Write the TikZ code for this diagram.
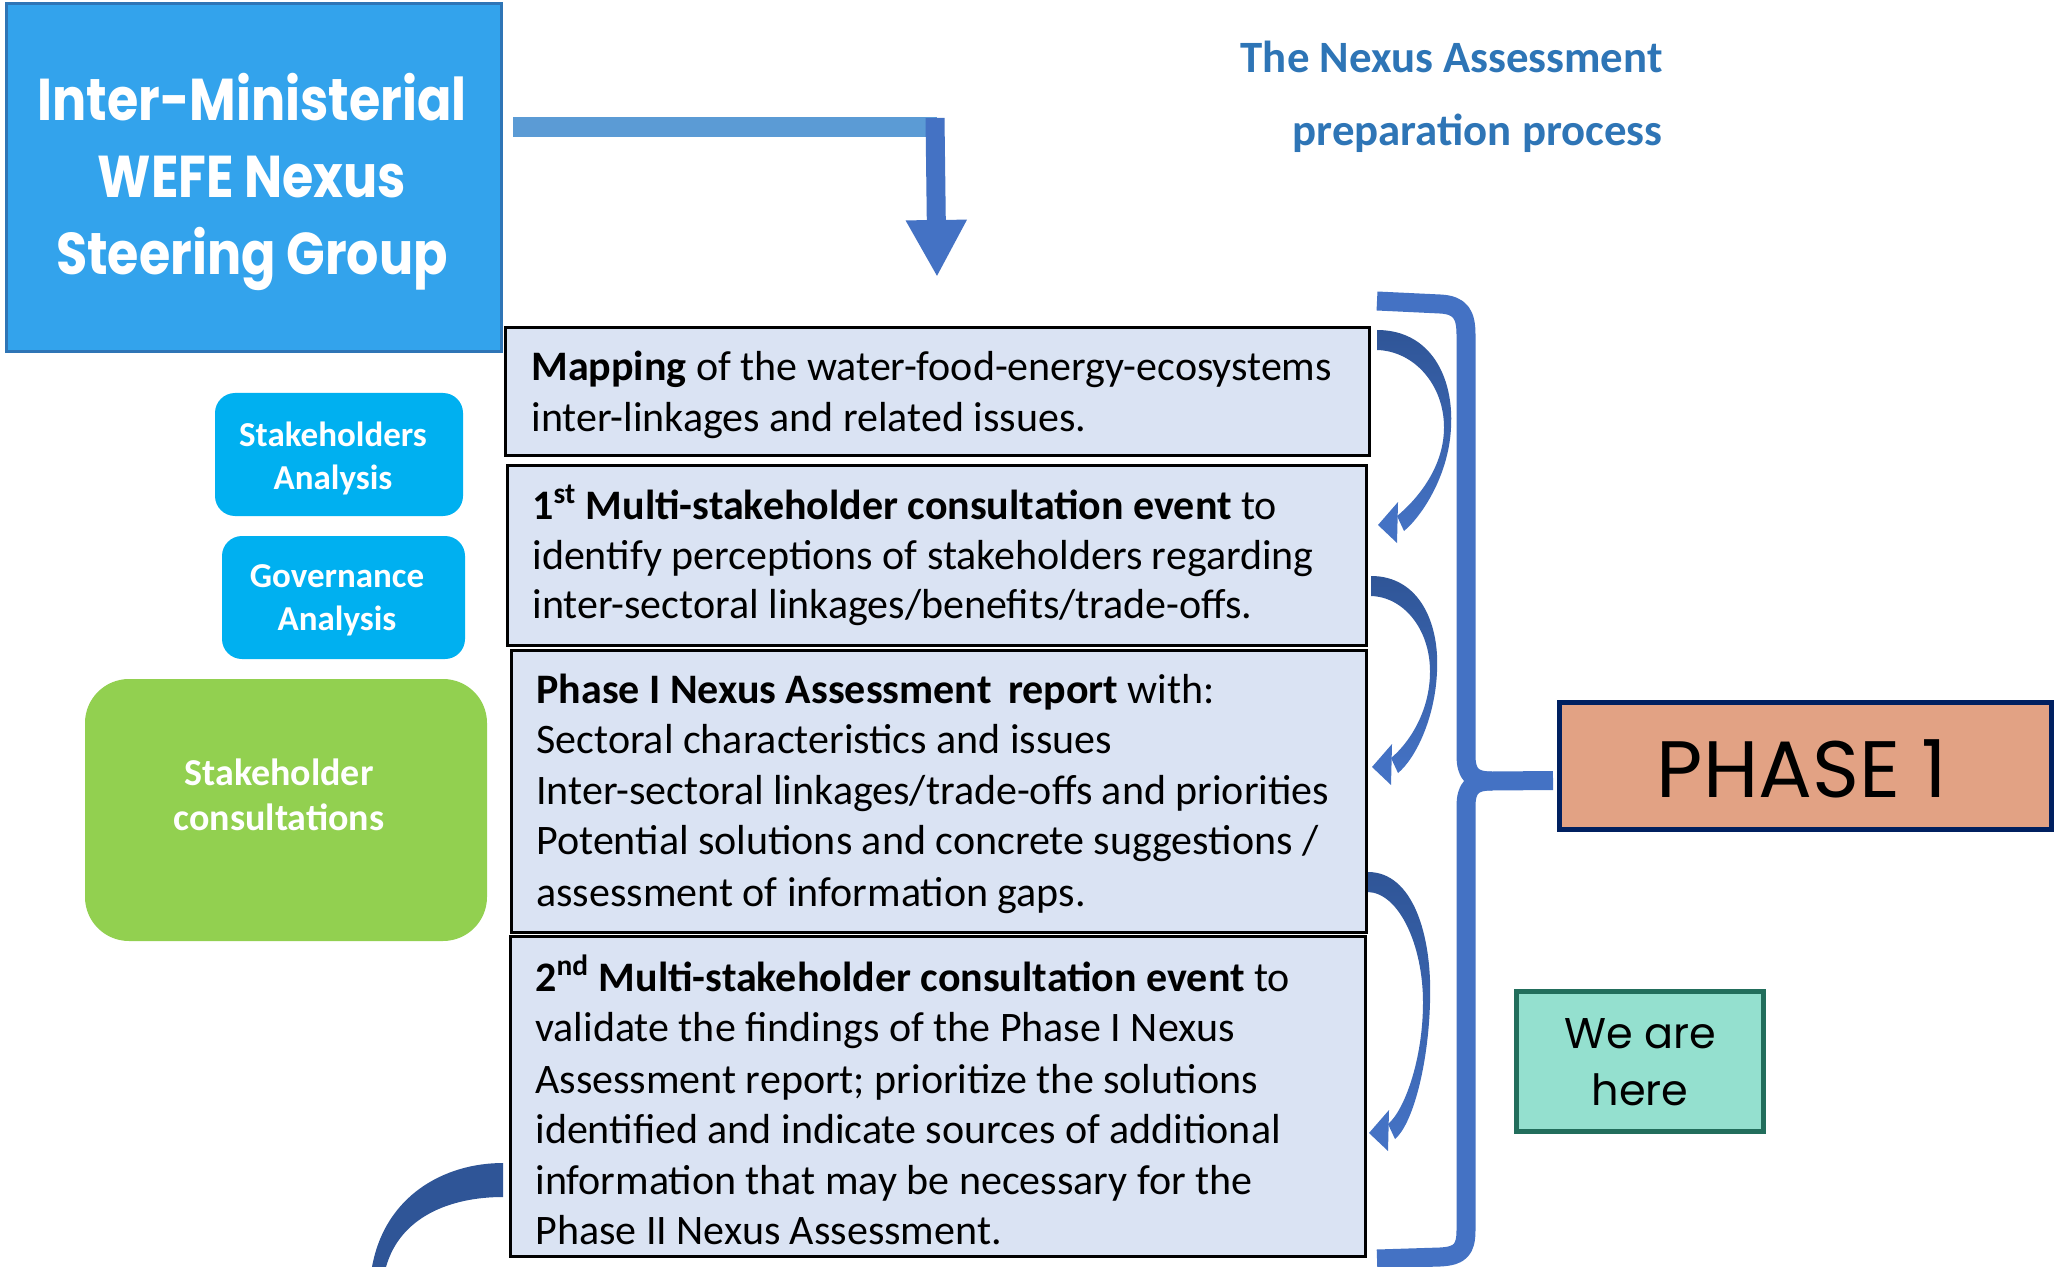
\documentclass[tikz,border=0pt]{standalone}
\usepackage{fontspec}
\setmainfont{Carlito}
\newfontfamily\geob[FakeStretch=0.86]{Poppins}
\newfontfamily\geor{Poppins}
\usetikzlibrary{arrows.meta,calc}
\definecolor{sgblue}{HTML}{33A3EC}
\definecolor{sgborder}{HTML}{2E75B6}
\definecolor{cyanbox}{HTML}{00B0F0}
\definecolor{greenbox}{HTML}{92D050}
\definecolor{stepfill}{HTML}{DAE3F3}
\definecolor{titleblue}{HTML}{2E75B6}
\definecolor{arrowblue}{HTML}{4472C4}
\definecolor{arrowdark}{HTML}{2F5597}
\definecolor{barblue}{HTML}{5B9BD5}
\definecolor{phasefill}{HTML}{E2A284}
\definecolor{phaseborder}{HTML}{002060}
\definecolor{herefill}{HTML}{94E0CF}
\definecolor{hereborder}{HTML}{226E5C}

% name, x1, y1, x2, y2, style  (pixel coordinates)
\newcommand\pxbox[6]{%
  \node[#6, anchor=north west, inner sep=0pt, outer sep=0pt,
    minimum width={(#4-#2)*0.5pt}, minimum height={(#5-#3)*0.5pt}] (#1) at (#2,#3) {};}

% curved arrow: x0, y0 (top), y1 (tip), xb (bulge)
\newcommand\carrow[4]{%
  \shade[top color=arrowdark, bottom color=arrowblue]
    (#1,#2) .. controls ({#1+0.72*(#4-#1)},#2) and ({#1+1.04*(#4-#1)},{#2+0.24*(#3-#2)}) .. (#4,{#2+0.5*(#3-#2)})
    .. controls ({#4-0.03*(#4-#1)},{#2+0.75*(#3-#2)}) and ({#1+44},{#3-8}) .. ({#1+27},{#3+6})
    -- ({#1+20},{#3-9})
    .. controls ({#1+36},{#3-22}) and ({#4-7},{#2+0.72*(#3-#2)}) .. ({#4-7},{#2+0.5*(#3-#2)})
    .. controls ({#4-7},{#2+0.28*(#3-#2)}) and ({#1+0.5*(#4-#1)},{#2+21}) .. (#1,{#2+20}) -- cycle;
  \fill[arrowblue] ({#1+1},#3) -- ({#1+21},{#3-23}) -- ({#1+20},{#3+18}) -- cycle;}

\tikzset{
  steptxt/.style={anchor=base west, inner sep=0pt, font=\fontsize{21}{25}\selectfont},
  sgtxt/.style={anchor=base, inner sep=0pt, text=white, font=\geob\bfseries\fontsize{29.5}{30}\selectfont},
  smalltxt/.style={anchor=base, inner sep=0pt, text=white, font=\bfseries\fontsize{17.5}{20}\selectfont},
  titletxt/.style={anchor=base east, inner sep=0pt, text=titleblue, font=\bfseries\fontsize{22.4}{25}\selectfont},
  stepbox/.style={draw=black, line width=1.5pt, fill=stepfill},
}

\begin{document}
\begin{tikzpicture}[x=0.5pt,y=-0.5pt]
\fill[white] (0,0) rectangle (2055,1267);
\useasboundingbox (0,0) rectangle (2055,1267);

% boxes
\pxbox{sg}{6}{4}{501}{352}{fill=sgblue, draw=sgborder, line width=1.5pt}
\pxbox{sa}{215}{393}{463}{516}{fill=cyanbox, rounded corners=10pt}
\pxbox{ga}{222}{536}{465}{659}{fill=cyanbox, rounded corners=10pt}
\pxbox{sc}{85}{679}{487}{941}{fill=greenbox, rounded corners=22pt}
\pxbox{b1}{505}{328}{1369}{455}{stepbox}
\pxbox{b2}{507}{465}{1366}{645}{stepbox}
\pxbox{b3}{511}{650}{1366}{932}{stepbox}
\pxbox{b4}{510}{936}{1365}{1256}{stepbox}
\pxbox{ph}{1559}{702}{2051}{829}{fill=phasefill, draw=phaseborder, line width=2.5pt}
\pxbox{wh}{1516}{991}{1763}{1131}{fill=herefill, draw=hereborder, line width=2.5pt}

% title
\node[titletxt] (ti1) at (1663,73) {The Nexus Assessment};
\node[titletxt] (ti2) at (1663,146) {preparation process};

% steering group text
\node[sgtxt] (sg1) at (252,121) {Inter-Ministerial};
\node[sgtxt] (sg2) at (252,198) {WEFE Nexus};
\node[sgtxt] (sg3) at (252,275) {Steering Group};

% small boxes text
\node[smalltxt] (sa1) at (333,446) {Stakeholders};
\node[smalltxt] (sa2) at (333,489) {Analysis};
\node[smalltxt] (ga1) at (337,587) {Governance};
\node[smalltxt] (ga2) at (337,630) {Analysis};
\node[smalltxt, font=\bfseries\fontsize{19}{20}\selectfont] (sc1) at (279,785) {Stakeholder};
\node[smalltxt, font=\bfseries\fontsize{19}{20}\selectfont] (sc2) at (279,830) {consultations};

% step texts
\node[steptxt] (t11) at (531,381) {\textbf{Mapping} of the water-food-energy-ecosystems};
\node[steptxt] (t12) at (531,431) {inter-linkages and related issues.};

\node[steptxt] (t21) at (532,519) {\textbf{1\textsuperscript{st} Multi-stakeholder consultation event} to};
\node[steptxt] (t22) at (532,569) {identify perceptions of stakeholders regarding};
\node[steptxt] (t23) at (532,618) {inter-sectoral linkages/benefits/trade-offs.};

\node[steptxt] (t31) at (536,703) {\textbf{Phase I Nexus Assessment\, report} with:};
\node[steptxt] (t32) at (536,753) {Sectoral characteristics and issues};
\node[steptxt] (t33) at (536,804) {Inter-sectoral linkages/trade-offs and priorities};
\node[steptxt] (t34) at (536,854) {Potential solutions and concrete suggestions /};
\node[steptxt] (t35) at (536,906) {assessment of information gaps.};

\node[steptxt] (t41) at (535,991) {\textbf{2\textsuperscript{nd} Multi-stakeholder consultation event} to};
\node[steptxt] (t42) at (535,1041) {validate the findings of the Phase I Nexus};
\node[steptxt] (t43) at (535,1093) {Assessment report; prioritize the solutions};
\node[steptxt] (t44) at (535,1143) {identified and indicate sources of additional};
\node[steptxt] (t45) at (535,1194) {information that may be necessary for the};
\node[steptxt] (t46) at (535,1244) {Phase II Nexus Assessment.};

% phase and here texts
\node[anchor=base, inner sep=0pt, font=\geor\fontsize{40}{42}\selectfont] (ph1) at (1802,797) {PHASE 1};
\node[anchor=base, inner sep=0pt, font=\geor\fontsize{21.5}{24}\selectfont] (wh1) at (1640,1048) {We are};
\node[anchor=base, inner sep=0pt, font=\geor\fontsize{21.5}{24}\selectfont] (wh2) at (1640,1105) {here};

% elbow arrow from steering group to first step
\coordinate (arrStart) at ($(sg.north east)+(12,123)$);
\coordinate (arrCorner) at ($(b1.north)+(0,-201)$);
\coordinate (arrTop) at ($(b1.north)+(-2,-210)$);
\coordinate (arrTip) at ($(b1.north)+(0,-51)$);
\draw[line width=10pt, draw=barblue] (arrStart) -- (arrCorner);
\draw[line width=9.5pt, draw=arrowblue, -{Triangle[width=28.5pt,length=28.5pt]}] (arrTop) -- (arrTip);

% curved arrows between steps
\carrow{1377}{330}{525}{1451}
\carrow{1371}{576}{767}{1437}
\carrow{1368}{872}{1133}{1430}

% brace to PHASE 1
\coordinate (braceTip) at ($(ph.west)+(-6,15)$);
\draw[arrowblue, line width=9.5pt, line join=round]
  (1377,301) -- (1440,304) .. controls (1461,305) and (1466,315) .. (1466,335)
  -- (1466,755) .. controls (1466,774) and (1472,781) .. (1492,781) -- (braceTip);
\draw[arrowblue, line width=9.5pt, line join=round]
  (1492,781) .. controls (1472,781) and (1466,788) .. (1466,807)
  -- (1466,1230) .. controls (1466,1250) and (1460,1256) .. (1440,1257) -- (1377,1259);

% partial arc at bottom left
\fill[arrowdark] (503,1163) .. controls (445,1163) and (385,1195) .. (372,1267)
  -- (386,1267) .. controls (400,1217) and (450,1197) .. (503,1197) -- cycle;
\end{tikzpicture}
\end{document}
